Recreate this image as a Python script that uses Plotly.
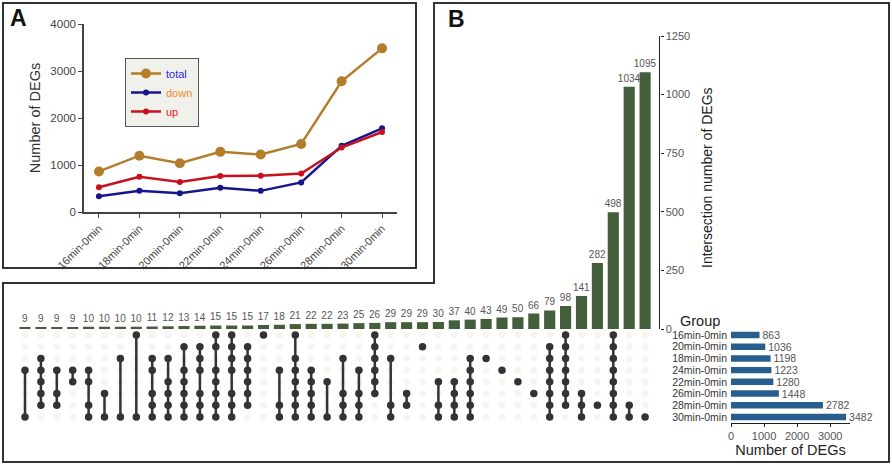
import plotly.graph_objects as go

W, H = 892, 465
FONT = "Liberation Sans, Arial, sans-serif"

# ---------------- Panel A data ----------------
periods = ["16min-0min", "18min-0min", "20min-0min", "22min-0min",
           "24min-0min", "26min-0min", "28min-0min", "30min-0min"]
total = [863, 1198, 1036, 1280, 1223, 1448, 2782, 3482]
down = [335, 450, 400, 515, 450, 630, 1410, 1780]
up = [528, 748, 636, 765, 773, 818, 1372, 1702]

# ---------------- Panel B data ----------------
groups = ["16min-0min", "20min-0min", "18min-0min", "24min-0min",
          "22min-0min", "26min-0min", "28min-0min", "30min-0min"]
group_sizes = [863, 1036, 1198, 1223, 1280, 1448, 2782, 3482]
intersection_sizes = [9, 9, 9, 9, 10, 10, 10, 10, 11, 12, 13, 14, 15, 15, 15,
                      17, 18, 21, 22, 22, 23, 25, 26, 29, 29, 29, 30, 37, 40,
                      43, 49, 50, 66, 79, 98, 141, 282, 498, 1034, 1095]
# members of each intersection, as indices into `groups`
intersection_members = [
    [3, 7], [2, 3, 4, 5, 6], [3, 5, 6], [3, 4], [3, 4, 6, 7], [5, 7], [2, 7],
    [0, 7], [2, 3, 5, 6, 7], [2, 4, 5, 6, 7], [1, 3, 4, 5, 6, 7],
    [1, 2, 3, 5, 6, 7], [0, 1, 3, 4, 5, 6, 7], [0, 1, 2, 3, 5, 6, 7],
    [1, 2, 3, 4, 5, 6], [0], [3, 6, 7], [0, 2, 3, 4, 5, 6, 7], [3, 4, 5, 6, 7],
    [4, 7], [2, 5, 6, 7], [3, 5, 6, 7], [0, 1, 2, 3, 4, 5], [2, 6, 7], [5, 6],
    [1], [4, 6, 7], [4, 5, 6, 7], [2, 3, 4, 5, 6, 7], [2], [3], [4], [5],
    [1, 2, 3, 4, 5, 6, 7], [0, 1, 2, 3, 4, 5, 6], [5, 6, 7], [6],
    [0, 1, 2, 3, 4, 5, 6, 7], [6, 7], [7]]


def dx(px):
    return px / W


def dy(py):
    return 1 - py / H


fig = go.Figure()

# ---------------- Panel A traces ----------------
c_total, c_down, c_up = "#b47d2c", "#16168c", "#c8101e"
fig.add_trace(go.Scatter(
    x=periods, y=total, mode="lines+markers",
    name="<span style='color:#2b2bd6'>total</span>",
    line=dict(color=c_total, width=2.5), marker=dict(size=10, color=c_total),
    xaxis="x", yaxis="y"))
fig.add_trace(go.Scatter(
    x=periods, y=down, mode="lines+markers",
    name="<span style='color:#f08a1c'>down</span>",
    line=dict(color=c_down, width=2.5), marker=dict(size=6, color=c_down),
    xaxis="x", yaxis="y"))
fig.add_trace(go.Scatter(
    x=periods, y=up, mode="lines+markers",
    name="<span style='color:#e8202a'>up</span>",
    line=dict(color=c_up, width=2.5), marker=dict(size=6, color=c_up),
    xaxis="x", yaxis="y"))

# ---------------- Panel B: intersection bars ----------------
ncol = len(intersection_sizes)
cols = list(range(ncol))
fig.add_trace(go.Bar(
    x=cols, y=intersection_sizes, text=[str(v) for v in intersection_sizes],
    textposition="outside", constraintext="none", cliponaxis=False,
    textfont=dict(size=10, color="#555555", family=FONT),
    marker=dict(color="#425e3a", line=dict(width=0)), width=0.7,
    showlegend=False, xaxis="x2", yaxis="y2"))

# ---------------- Panel B: matrix ----------------
bg_x, bg_y = [], []
for c in cols:
    for g in groups:
        bg_x.append(c)
        bg_y.append(g)
fig.add_trace(go.Scatter(
    x=bg_x, y=bg_y, mode="markers",
    marker=dict(size=7, color="#f6f6f1"),
    showlegend=False, hoverinfo="skip", xaxis="x3", yaxis="y3"))

ln_x, ln_y, dot_x, dot_y = [], [], [], []
for c, mem in zip(cols, intersection_members):
    if len(mem) > 1:
        ln_x += [c, c, None]
        ln_y += [groups[min(mem)], groups[max(mem)], None]
    for m in mem:
        dot_x.append(c)
        dot_y.append(groups[m])
fig.add_trace(go.Scatter(
    x=ln_x, y=ln_y, mode="lines", line=dict(color="#333333", width=2.5),
    showlegend=False, hoverinfo="skip", xaxis="x3", yaxis="y3"))
fig.add_trace(go.Scatter(
    x=dot_x, y=dot_y, mode="markers", marker=dict(size=7.5, color="#333333"),
    showlegend=False, xaxis="x3", yaxis="y3"))

# ---------------- Panel B: set size bars ----------------
fig.add_trace(go.Bar(
    x=group_sizes, y=groups, orientation="h",
    text=[str(v) for v in group_sizes], textposition="outside",
    constraintext="none", cliponaxis=False,
    textfont=dict(size=10.5, color="#555555", family=FONT),
    marker=dict(color="#285e8e", line=dict(width=0)), width=0.55,
    showlegend=False, xaxis="x4", yaxis="y4"))

# ---------------- Axes ----------------
col_step = 15.9
col0 = 25.0
xr = [-0.6, 39.9]
x2dom = [dx(col0 + xr[0] * col_step), dx(col0 + xr[1] * col_step)]
row_top, row_step = 335.0, 11.71
mat_dom = [dy(row_top + 7.5 * row_step), dy(row_top - 0.5 * row_step)]

axis_font = dict(family=FONT, size=11.5, color="#444444")

fig.update_layout(
    width=W, height=H,
    margin=dict(l=0, r=0, t=0, b=0, pad=0, autoexpand=False),
    paper_bgcolor="white", plot_bgcolor="rgba(0,0,0,0)",
    font=dict(family=FONT, color="#333333"),
    showlegend=True,
    legend=dict(x=dx(125), y=dy(58), xanchor="left", yanchor="top",
                bgcolor="#f1f1ec", bordercolor="#555555", borderwidth=1,
                font=dict(family=FONT, size=11), itemwidth=30,
                tracegroupgap=0),
    bargap=0.3,
    xaxis=dict(domain=[dx(84), dx(397)], anchor="y", type="category",
               range=[-0.37, 7.37], showline=True, linecolor="#444444",
               linewidth=1.5, ticks="outside", ticklen=4, tickcolor="#444444",
               tickangle=-45, tickfont=dict(family=FONT, size=11, color="#444444"),
               showgrid=False, zeroline=False, automargin=False),
    yaxis=dict(domain=[dy(212), dy(24)], anchor="x", range=[0, 4000],
               tickvals=[0, 1000, 2000, 3000, 4000], showline=True,
               linecolor="#444444", linewidth=1.5, ticks="outside", ticklen=4,
               tickcolor="#444444", tickfont=axis_font, showgrid=False,
               zeroline=False, automargin=False,
               title=dict(text="Number of DEGs", standoff=6,
                          font=dict(family=FONT, size=14.5, color="#333333"))),
    xaxis2=dict(domain=x2dom, anchor="y2", range=xr, visible=False),
    yaxis2=dict(domain=[dy(329), dy(36)], anchor="x2", side="right",
                range=[0, 1250], tickvals=[0, 250, 500, 750, 1000, 1250],
                showline=True, linecolor="#222222", linewidth=1.2,
                ticks="outside", ticklen=3, tickcolor="#222222",
                tickfont=dict(family=FONT, size=11, color="#555555"),
                showgrid=False, zeroline=False, automargin=False),
    xaxis3=dict(domain=x2dom, anchor="y3", range=xr, visible=False),
    yaxis3=dict(domain=mat_dom, anchor="x3", type="category",
                categoryorder="array", categoryarray=groups,
                range=[7.5, -0.5], visible=False),
    xaxis4=dict(domain=[dx(731), dx(850)], anchor="y4", range=[0, 3600],
                tickvals=[0, 1000, 2000, 3000], showline=True,
                linecolor="#222222", linewidth=1.2, ticks="outside",
                ticklen=3, tickcolor="#222222",
                tickfont=dict(family=FONT, size=11, color="#555555"),
                showgrid=False, zeroline=False, automargin=False,
                title=dict(text="Number of DEGs", standoff=2,
                           font=dict(family=FONT, size=14.5, color="#222222"))),
    yaxis4=dict(domain=mat_dom, anchor="x4", type="category",
                categoryorder="array", categoryarray=groups,
                tickmode="array", tickvals=groups, ticktext=groups,
                range=[7.5, -0.5], showline=False, ticks="",
                ticklabelstandoff=3, automargin=False,
                tickfont=dict(family=FONT, size=10.5, color="#333333"),
                showgrid=False, zeroline=False),
)

# ---------------- Annotations ----------------
fig.add_annotation(x=dx(707), y=dy(178), xref="paper", yref="paper",
                   xanchor="center", yanchor="middle",
                   text="Intersection number of DEGs", textangle=-90,
                   showarrow=False, font=dict(family=FONT, size=14, color="#222222"))
fig.add_annotation(x=dx(700), y=dy(321), xref="paper", yref="paper",
                   xanchor="center", yanchor="middle",
                   text="Group", showarrow=False,
                   font=dict(family=FONT, size=14.5, color="#222222"))
fig.add_annotation(x=dx(18), y=dy(18), xref="paper", yref="paper",
                   xanchor="center", yanchor="middle",
                   text="<b>A</b>", showarrow=False,
                   font=dict(family=FONT, size=23, color="#111111"))
fig.add_annotation(x=dx(456), y=dy(19), xref="paper", yref="paper",
                   xanchor="center", yanchor="middle",
                   text="<b>B</b>", showarrow=False,
                   font=dict(family=FONT, size=23, color="#111111"))

# ---------------- Panel frames ----------------
fig.add_shape(type="rect", xref="paper", yref="paper",
              x0=dx(3), y0=dy(268), x1=dx(416), y1=dy(3),
              line=dict(color="#333333", width=2))
path = "M {} {} L {} {} L {} {} L {} {} L {} {} L {} {} Z".format(
    dx(434), dy(3), dx(889), dy(3), dx(889), dy(462),
    dx(3), dy(462), dx(3), dy(283), dx(434), dy(283))
fig.add_shape(type="path", xref="paper", yref="paper", path=path,
              line=dict(color="#333333", width=2))

fig.write_html("out.html", config={"displayModeBar": False},
               post_script="document.body.style.margin='0px';")
